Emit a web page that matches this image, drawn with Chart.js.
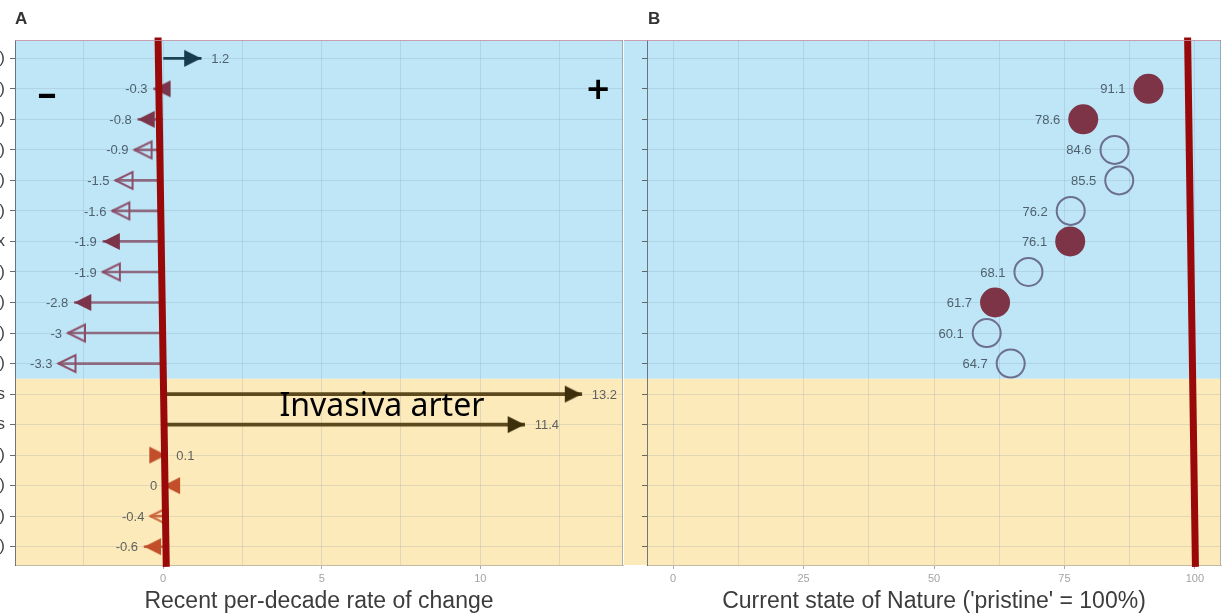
<!DOCTYPE html>
<html>
<head>
<meta charset="utf-8">
<script src="https://cdn.jsdelivr.net/npm/chart.js@4/dist/chart.umd.min.js"></script>
<style>
  html, body { margin: 0; padding: 0; background: #fff; }
  #wrap { position: relative; width: 1226px; height: 614px; overflow: hidden; }
  #rateChart { position: absolute; left: 0; top: 0; }
  #stateChart { position: absolute; left: 624px; top: 0; }
  .panel-tag { position: absolute; font: bold 17px "Liberation Sans", Arial, sans-serif; color: #333; }
</style>
</head>
<body>
<div id="wrap">
  <canvas id="rateChart" width="624" height="614"></canvas>
  <canvas id="stateChart" width="602" height="614"></canvas>
  <div class="panel-tag" style="left:15px;top:9px">A</div>
  <div class="panel-tag" style="left:648px;top:9px">B</div>
</div>
<script>
// ---- data -------------------------------------------------------------
// Row labels (only their trailing characters fit in the left margin)
const rowTails = [')', ')', ')', ')', ')', ')', 'x', ')', ')', ')', ')', 's', 's', ')', ')', ')', ')'];
// Panel A: recent per-decade rate of change
const rateOfChange = [1.2, -0.3, -0.8, -0.9, -1.5, -1.6, -1.9, -1.9, -2.8, -3, -3.3, 13.2, 11.4, 0.1, 0, -0.4, -0.6];
const rateFilled   = [1, 1, 1, 0, 0, 0, 1, 0, 1, 0, 0, 1, 1, 1, 1, 0, 1];
const rateGroup    = ['up', 'nat', 'nat', 'nat', 'nat', 'nat', 'nat', 'nat', 'nat', 'nat', 'nat',
                      'inv', 'inv', 'oth', 'oth', 'oth', 'oth'];
// Panel B: current state of nature ('pristine' = 100 %)
const stateOfNature = [null, 91.1, 78.6, 84.6, 85.5, 76.2, 76.1, 68.1, 61.7, 60.1, 64.7,
                       null, null, null, null, null, null];
const stateFilled   = [0, 1, 1, 0, 0, 0, 1, 0, 1, 0, 0, 0, 0, 0, 0, 0, 0];
// Number of rows in the upper (blue) block
const upperRows = 11;
// Axis ticks (minor ticks carry no label)
const rateTicks  = [-2.5, 0, 2.5, 5, 7.5, 10, 12.5];
const rateLabels = [0, 5, 10];
const stateTicks  = [0, 12.5, 25, 37.5, 50, 62.5, 75, 87.5, 100];
const stateLabels = [0, 25, 50, 75, 100];
// Hand-drawn reference lines (value at top, value at bottom)
const zeroLine = [-0.16, 0.1];
const pristineLine = [98.6, 100.1];

// ---- styles -----------------------------------------------------------
const groupColor = {
  up:  { head: '#173a4c', shaft: '#1d4254' },
  nat: { head: '#7b3449', open: '#8c4d68', shaft: '#8e6a80' },
  inv: { head: '#3e2f0c', shaft: '#5c4a1e' },
  oth: { head: '#c24f2a', open: '#c9643c', shaft: '#c96a42' }
};
const BLUE = '#bfe6f7', SAND = '#fdeabb';
const GRID = 'rgba(90,120,140,0.16)';
const FONT = '"Liberation Sans", Arial, sans-serif';

// Arrow head image whose centre is the tip, so the tip lands on the value
function headImage(color, filled, dir) {
  const L = 17, H = 17;
  const c = document.createElement('canvas');
  c.width = 2 * L + 6; c.height = H + 6;
  const g = c.getContext('2d');
  const cx = c.width / 2, cy = c.height / 2;
  g.beginPath();
  if (dir > 0) {
    g.moveTo(cx, cy); g.lineTo(cx - L, cy - H / 2); g.lineTo(cx - L, cy + H / 2);
  } else {
    g.moveTo(cx, cy); g.lineTo(cx + L, cy - H / 2); g.lineTo(cx + L, cy + H / 2);
  }
  g.closePath();
  if (filled) { g.fillStyle = color; g.fill(); }
  else { g.lineWidth = 2; g.strokeStyle = color; g.stroke(); }
  return c;
}

const rows = rateOfChange.map((v, i) => i);
const headStyles = rateOfChange.map((v, i) => {
  const col = groupColor[rateGroup[i]];
  const filled = !!rateFilled[i];
  return headImage(filled ? col.head : (col.open || col.head), filled, v > 0 ? 1 : -1);
});

// ---- plugins ----------------------------------------------------------
const bands = {
  id: 'bands',
  beforeDraw(chart, args, opts) {
    const { ctx, chartArea: a, scales: { y } } = chart;
    const split = y.getPixelForValue(upperRows - 0.5);
    const x0 = opts.fromEdge ? 0 : a.left;
    ctx.save();
    ctx.fillStyle = BLUE; ctx.fillRect(x0, a.top, a.right - x0, split - a.top);
    ctx.fillStyle = SAND; ctx.fillRect(x0, split, a.right - x0, a.bottom - split);
    ctx.restore();
  },
  afterDraw(chart, args, opts) {
    const { ctx, chartArea: a } = chart;
    const x0 = opts.fromEdge ? 0 : a.left;
    ctx.save();
    ctx.strokeStyle = 'rgba(205,140,160,0.8)';
    ctx.lineWidth = 1;
    ctx.beginPath(); ctx.moveTo(x0, a.top + 0.5); ctx.lineTo(a.right, a.top + 0.5); ctx.stroke();
    if (opts.rightEdge) {
      ctx.strokeStyle = 'rgba(110,125,135,0.55)';
      ctx.beginPath(); ctx.moveTo(a.right - 0.5, a.top); ctx.lineTo(a.right - 0.5, a.bottom); ctx.stroke();
    }
    ctx.restore();
  }
};

const valueLabels = {
  id: 'valueLabels',
  afterDatasetsDraw(chart, args, opts) {
    const { ctx } = chart;
    const meta = chart.getDatasetMeta(opts.dataset);
    const ds = chart.data.datasets[opts.dataset];
    ctx.save();
    ctx.font = '13px ' + FONT;
    ctx.fillStyle = 'rgba(35,45,55,0.72)';
    ctx.textBaseline = 'middle';
    meta.data.forEach((el, k) => {
      const v = ds.data[k].x;
      const right = opts.side === 'auto' ? v > 0 : opts.side === 'right';
      ctx.textAlign = right ? 'left' : 'right';
      const off = right ? opts.gapRight : -opts.gapLeft;
      ctx.fillText(String(v), el.x + off, el.y + 1);
    });
    ctx.restore();
  }
};

const notes = {
  id: 'notes',
  afterDatasetsDraw(chart) {
    const { ctx, scales: { x, y } } = chart;
    ctx.save();
    ctx.fillStyle = '#000';
    ctx.textAlign = 'center';
    ctx.textBaseline = 'middle';
    ctx.font = '32px "Noto Sans", "Open Sans", sans-serif';
    ctx.fillText('Invasiva arter', x.getPixelForValue(6.9), y.getPixelForValue(11.42));
    ctx.font = 'bold 38px "Noto Sans", sans-serif';
    ctx.fillText('\u2013', x.getPixelForValue(-3.66), y.getPixelForValue(1.2));
    ctx.font = '600 40px "Noto Sans", sans-serif';
    ctx.fillText('+', x.getPixelForValue(13.72), y.getPixelForValue(1.1));
    ctx.restore();
  }
};

// ---- shared axis pieces ------------------------------------------------
function rowAxis(showLabels, width) {
  return {
    type: 'linear', reverse: true, min: -0.6, max: 16.6, offset: false,
    afterBuildTicks: s => { s.ticks = rows.map(i => ({ value: i })); },
    afterFit: s => { s.width = width; },
    ticks: {
      autoSkip: false, padding: 5,
      color: '#444', font: { family: FONT, size: 17 },
      callback: (v, i) => showLabels ? rowTails[i] : ''
    },
    grid: { color: GRID, lineWidth: 1, tickLength: 5, tickColor: 'rgba(70,70,70,0.8)', offset: false },
    border: { display: true, color: 'rgba(70,80,90,0.75)', width: 1 }
  };
}
function valueAxis(min, max, ticks, labels, title) {
  return {
    type: 'linear', min, max, offset: false,
    afterBuildTicks: s => { s.ticks = ticks.map(v => ({ value: v })); },
    afterFit: s => { s.height = 49; },
    ticks: {
      autoSkip: false, maxRotation: 0, padding: 3,
      color: '#a3a3a3', font: { family: FONT, size: 11 },
      callback: v => labels.includes(v) ? String(v) : ''
    },
    grid: {
      color: GRID, lineWidth: 1, tickLength: 4, offset: false,
      tickColor: c => (c.tick && labels.includes(c.tick.value)) ? '#aaa' : 'rgba(0,0,0,0)'
    },
    border: { display: true, color: 'rgba(170,160,120,0.7)', width: 1 },
    title: {
      display: true, text: title, color: '#3c3c3c',
      font: { family: FONT, size: 23, lineHeight: 1.05 }, padding: { top: 2, bottom: 0 }
    }
  };
}

// ---- Panel A: rate of change --------------------------------------------
const shaftData = g => rows.filter(i => (g === 'inv') === (rateGroup[i] === 'inv'))
  .map(i => ({ x: [0, rateOfChange[i]], y: i }));
const shaftColors = g => rows.filter(i => (g === 'inv') === (rateGroup[i] === 'inv'))
  .map(i => groupColor[rateGroup[i]].shaft);

new Chart(document.getElementById('rateChart'), {
  type: 'bar',
  data: {
    datasets: [
      {
        type: 'line', order: 0,
        data: [{ x: zeroLine[0], y: -0.68 }, { x: zeroLine[1], y: 16.66 }],
        borderColor: '#9a0909', borderWidth: 7, pointRadius: 0, clip: false
      },
      {
        type: 'scatter', order: 1,
        data: rateOfChange.map((v, i) => ({ x: v, y: i })),
        pointStyle: headStyles, pointRadius: 9
      },
      {
        type: 'bar', order: 2, indexAxis: 'y', grouped: false,
        data: shaftData('other'), backgroundColor: shaftColors('other'),
        barThickness: 2, borderWidth: 0
      },
      {
        type: 'bar', order: 3, indexAxis: 'y', grouped: false,
        data: shaftData('inv'), backgroundColor: shaftColors('inv'),
        barThickness: 3, borderWidth: 0
      }
    ]
  },
  options: {
    responsive: false, animation: false, devicePixelRatio: 1,
    layout: { autoPadding: false, padding: { top: 40, right: 1, left: 0, bottom: 0 } },
    plugins: {
      legend: { display: false }, tooltip: { enabled: false },
      bands: { fromEdge: false, rightEdge: true },
      valueLabels: { dataset: 1, side: 'auto', gapRight: 10, gapLeft: 6 }
    },
    scales: {
      x: valueAxis(-4.67, 14.5, rateTicks, rateLabels, 'Recent per-decade rate of change'),
      y: rowAxis(true, 15)
    }
  },
  plugins: [bands, valueLabels, notes]
});

// ---- Panel B: current state of nature ------------------------------------
const stateRows = rows.filter(i => stateOfNature[i] !== null);
new Chart(document.getElementById('stateChart'), {
  type: 'scatter',
  data: {
    datasets: [
      {
        type: 'line', order: 0,
        data: [{ x: pristineLine[0], y: -0.68 }, { x: pristineLine[1], y: 16.66 }],
        borderColor: '#9a0909', borderWidth: 7, pointRadius: 0, clip: false
      },
      {
        type: 'scatter', order: 1,
        data: stateRows.map(i => ({ x: stateOfNature[i], y: i })),
        pointRadius: stateRows.map(i => stateFilled[i] ? 15 : 14),
        backgroundColor: stateRows.map(i => stateFilled[i] ? '#7c3446' : 'rgba(0,0,0,0)'),
        borderColor: stateRows.map(i => stateFilled[i] ? '#7c3446' : '#6c6f90'),
        borderWidth: stateRows.map(i => stateFilled[i] ? 0 : 2)
      }
    ]
  },
  options: {
    responsive: false, animation: false, devicePixelRatio: 1,
    layout: { autoPadding: false, padding: { top: 40, right: 5, left: 0, bottom: 0 } },
    plugins: {
      legend: { display: false }, tooltip: { enabled: false },
      bands: { fromEdge: true, rightEdge: true },
      valueLabels: { dataset: 1, side: 'left', gapRight: 0, gapLeft: 23 }
    },
    scales: {
      x: valueAxis(-5, 105, stateTicks, stateLabels, "Current state of Nature ('pristine' = 100%)"),
      y: rowAxis(false, 23)
    }
  },
  plugins: [bands, valueLabels]
});
</script>
</body>
</html>
